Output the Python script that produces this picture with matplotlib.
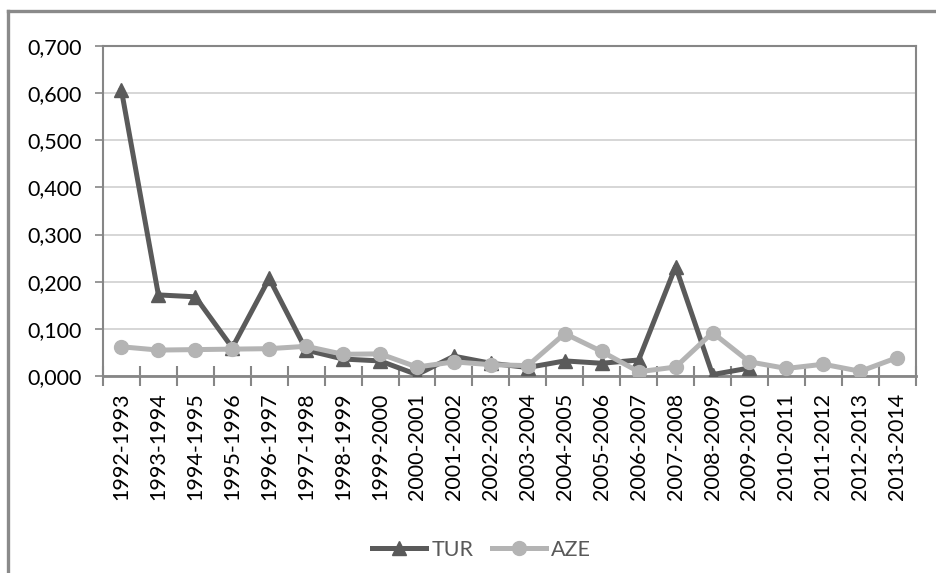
import matplotlib
matplotlib.use('Agg')
import matplotlib.pyplot as plt
from matplotlib.lines import Line2D
from matplotlib.ticker import FuncFormatter

periods = ['1992-1993', '1993-1994', '1994-1995', '1995-1996', '1996-1997',
           '1997-1998', '1998-1999', '1999-2000', '2000-2001', '2001-2002',
           '2002-2003', '2003-2004', '2004-2005', '2005-2006', '2006-2007',
           '2007-2008', '2008-2009', '2009-2010', '2010-2011', '2011-2012',
           '2012-2013', '2013-2014']
# TUR stops at 2009-2010
tur = [0.606, 0.172, 0.168, 0.060, 0.207, 0.055, 0.036, 0.032, 0.003, 0.042,
       0.027, 0.018, 0.032, 0.027, 0.034, 0.232, 0.003, 0.017]
aze = [0.062, 0.055, 0.056, 0.057, 0.058, 0.063, 0.046, 0.047, 0.019, 0.030,
       0.024, 0.022, 0.090, 0.052, 0.009, 0.019, 0.092, 0.030, 0.016, 0.025,
       0.010, 0.039]

plt.rcParams['font.family'] = ['Lato', 'DejaVu Sans']
fs = 15.5

fig = plt.figure(figsize=(9.37, 5.73), dpi=100)
ax = fig.add_axes([0.1099, 0.3438, 0.8674, 0.5759])

grid_c = '#d0d0d0'
axis_c = '#868686'

x = list(range(len(periods)))
ax.plot(x[:len(tur)], tur, color='#5a5a5a', lw=3.6, marker='^', ms=10.5,
        label='TUR', zorder=3)
ax.plot(x, aze, color='#b4b4b4', lw=3.6, marker='o', ms=10,
        label='AZE', zorder=4)

ax.set_xlim(-0.5, len(periods) - 0.5)
ax.set_ylim(0, 0.7)
ax.set_yticks([i / 10 for i in range(8)])
ax.yaxis.set_major_formatter(FuncFormatter(lambda v, p: f'{v:.3f}'.replace('.', ',')))
ax.set_xticks(x)
ax.set_xticklabels(periods, rotation=90)
ax.set_xticks([i - 0.5 for i in range(len(periods) + 1)], minor=True)
ax.tick_params(axis='x', which='major', length=0, pad=12, labelsize=fs)
ax.tick_params(axis='x', which='minor', length=15, direction='inout',
               color=axis_c, width=1.5)
ax.tick_params(axis='y', length=6, color=axis_c, width=1.2, labelsize=fs, pad=9)
ax.grid(axis='y', color=grid_c, lw=1.2)
ax.set_axisbelow(True)
for s in ax.spines.values():
    s.set_color(axis_c)
    s.set_linewidth(1.5)
ax.spines['bottom'].set_linewidth(2)
ax.spines['bottom'].set_zorder(2.5)

ax.legend(loc='center', bbox_to_anchor=(0.514, 1 - 550 / 573),
          bbox_transform=fig.transFigure, ncol=2, frameon=False,
          fontsize=fs, labelcolor='#595959', handlelength=2.5,
          columnspacing=0.85, handletextpad=0.25)

# outer chart frame (only left and top edges visible)
fl = 8 / 937
ft = 1 - 11 / 573
fig.add_artist(Line2D([fl, fl], [0, ft], color='#8a8a8a', lw=2.4, transform=fig.transFigure))
fig.add_artist(Line2D([fl, 1], [ft, ft], color='#8a8a8a', lw=2.4, transform=fig.transFigure))

fig.savefig('out.png', dpi=100)
